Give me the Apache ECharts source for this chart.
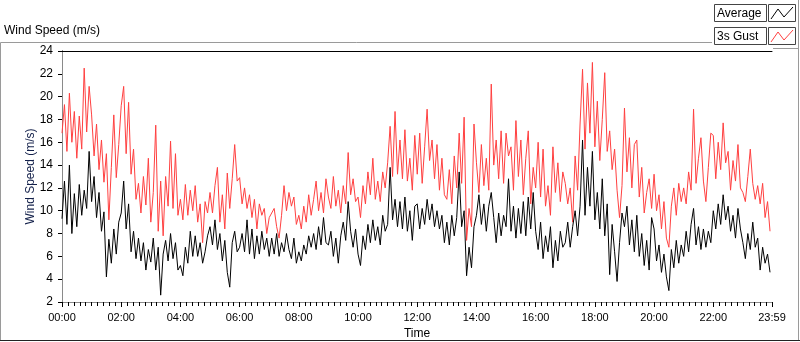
<!DOCTYPE html>
<html>
<head>
<meta charset="utf-8">
<script src="https://cdn.jsdelivr.net/npm/echarts@6/dist/echarts.min.js"></script>
<style>
  html, body { margin: 0; padding: 0; background: #fff; }
  #chart { width: 800px; height: 342px; }
</style>
</head>
<body>
<div id="chart"></div>
<script>
// samples every 5 minutes, 00:00 .. 23:55 (one row per hour)
const STEP_MIN = 5;

const gust = [
  16.8, 19.3, 15.2, 20.3, 16.0, 18.7, 14.6, 18.3, 15.4, 22.5, 16.9, 20.9,
  18.4, 14.8, 17.6, 13.6, 16.2, 12.5, 15.0, 9.2, 13.8, 18.4, 12.9, 15.8,
  19.2, 20.9, 15.0, 19.5, 13.2, 15.4, 11.0, 12.4, 9.8, 13.0, 10.5, 14.6,
  9.0, 11.6, 17.5, 8.2, 12.6, 7.8, 13.0, 10.4, 16.1, 10.2, 15.0, 9.6,
  11.0, 9.2, 12.3, 9.6, 11.8, 10.0, 12.2, 9.0, 10.6, 7.2, 10.8, 9.8,
  11.6, 9.8, 12.2, 13.8, 9.0, 11.4, 8.4, 13.3, 10.2, 12.8, 15.8, 12.6,
  12.9, 10.6, 12.0, 10.2, 11.4, 9.4, 11.0, 8.4, 10.6, 9.6, 10.2, 8.0,
  9.4, 9.8, 10.2, 8.6, 7.6, 9.6, 12.2, 10.0, 11.6, 10.4, 11.2, 8.8,
  9.6, 8.4, 10.4, 9.0, 11.4, 9.6, 11.0, 12.6, 10.0, 11.6, 9.8, 12.8,
  11.2, 10.2, 13.0, 10.4, 11.8, 9.8, 12.2, 10.6, 15.1, 11.4, 12.8, 10.8,
  11.2, 9.4, 12.2, 10.6, 13.4, 11.4, 14.6, 11.0, 12.6, 10.8, 13.4, 12.0,
  14.2, 17.4, 13.0, 18.7, 13.2, 16.2, 12.8, 17.1, 12.6, 14.6, 11.8, 16.6,
  13.2, 16.8, 12.4, 15.6, 18.9, 14.4, 16.2, 12.8, 15.8, 11.8, 14.6, 11.4,
  11.0, 13.6, 10.6, 14.8, 12.0, 16.8, 12.4, 18.2, 7.4, 10.2, 8.6, 17.6,
  14.2, 11.6, 15.8, 12.2, 14.6, 11.8, 21.1, 14.0, 16.2, 12.8, 17.0, 12.4,
  16.8, 14.8, 15.6, 11.8, 17.9, 13.0, 16.2, 11.4, 14.6, 17.0, 10.6, 13.8,
  12.0, 16.0, 11.2, 15.4, 10.4, 12.2, 9.6, 15.6, 11.6, 14.2, 10.8, 13.4,
  12.4, 10.6, 12.0, 9.0, 14.8, 11.8, 17.6, 22.4, 15.4, 21.2, 16.8, 23.0,
  15.6, 19.6, 14.4, 18.0, 22.1, 15.2, 17.0, 13.6, 15.4, 11.8, 9.4, 12.2,
  19.0, 13.4, 16.4, 12.0, 15.8, 16.2, 11.2, 13.8, 9.8, 11.6, 12.8, 10.2,
  13.2, 10.0, 11.4, 8.4, 10.8, 7.6, 6.8, 10.4, 12.0, 9.6, 12.4, 10.8,
  12.0, 10.6, 13.4, 11.8, 18.9, 12.4, 14.6, 16.4, 12.6, 10.8, 13.8, 16.8,
  16.6, 12.8, 16.0, 13.6, 17.7, 14.2, 15.2, 11.8, 14.4, 12.6, 15.8, 12.0,
  11.6, 10.8, 13.0, 15.4, 12.4, 11.0, 12.2, 10.6, 12.4, 9.4, 10.8, 8.2
];

const average = [
  9.3, 12.6, 8.8, 14.0, 8.0, 11.5, 8.6, 12.3, 9.6, 11.8, 10.2, 15.2,
  10.8, 13.0, 9.4, 11.6, 8.2, 9.9, 4.2, 7.5, 5.4, 8.4, 6.2, 9.0,
  9.8, 12.6, 8.4, 10.6, 6.4, 8.2, 5.8, 7.6, 5.6, 7.2, 4.8, 6.6,
  5.5, 7.6, 4.8, 6.8, 2.6, 6.2, 7.4, 5.6, 8.0, 5.8, 7.2, 4.8,
  5.2, 4.3, 6.8, 5.4, 8.2, 6.0, 7.8, 6.0, 7.2, 5.4, 6.4, 7.8,
  8.6, 7.0, 9.2, 6.6, 8.0, 5.6, 7.4, 4.6, 3.3, 7.2, 8.2, 6.4,
  6.8, 8.0, 6.4, 9.2, 6.2, 8.4, 5.8, 7.8, 6.2, 8.2, 6.6, 7.6,
  6.0, 7.6, 6.2, 8.0, 6.0, 7.2, 6.4, 8.0, 6.6, 5.8, 7.6, 5.4,
  6.4, 5.6, 7.0, 6.2, 7.8, 6.8, 8.0, 6.6, 8.6, 7.0, 9.4, 7.2,
  7.0, 8.2, 6.0, 7.6, 5.4, 7.8, 9.0, 7.4, 10.8, 8.2, 6.8, 8.4,
  6.2, 5.2, 7.8, 6.6, 8.8, 7.2, 9.2, 7.4, 8.6, 7.0, 9.6, 8.2,
  8.8, 13.8, 9.2, 11.0, 8.6, 10.8, 8.4, 11.2, 8.2, 10.0, 7.4, 10.4,
  10.6, 8.4, 10.2, 8.8, 11.0, 9.2, 10.6, 8.6, 10.0, 8.4, 9.6, 7.2,
  9.0, 7.0, 9.6, 7.8, 9.4, 13.4, 8.6, 10.0, 4.3, 6.8, 5.0, 8.6,
  9.6, 11.4, 8.8, 10.6, 8.2, 10.4, 11.6, 9.4, 7.2, 9.8, 7.8, 9.6,
  8.6, 12.8, 8.2, 10.4, 7.6, 10.2, 8.0, 10.8, 7.8, 11.2, 8.4, 11.6,
  8.2, 6.6, 9.0, 5.8, 7.8, 6.4, 8.6, 5.0, 7.4, 5.6, 8.2, 6.8,
  7.2, 9.0, 6.8, 8.6, 10.0, 7.8, 10.4, 16.2, 9.6, 13.8, 10.4, 15.2,
  9.2, 11.6, 8.4, 12.8, 7.8, 10.6, 4.4, 8.8, 6.4, 3.8, 7.2, 9.8,
  8.6, 10.4, 7.0, 9.2, 6.4, 9.6, 6.0, 8.0, 5.2, 7.4, 4.8, 9.4,
  8.4, 5.6, 7.0, 4.6, 6.2, 4.2, 3.0, 6.6, 5.0, 7.4, 5.4, 7.0,
  6.0, 8.2, 6.4, 8.8, 10.2, 7.0, 8.6, 6.6, 8.4, 6.8, 8.2, 7.2,
  10.0, 8.4, 10.6, 8.8, 11.4, 9.2, 10.4, 8.2, 9.6, 7.6, 10.2, 8.4,
  7.2, 5.8, 8.0, 6.6, 9.0, 6.8, 7.6, 4.8, 6.8, 5.4, 6.2, 4.6
];

const Y_TICKS = { min: 2, max: 24, step: 2 };
const X_TICKS = { min: 0, max: 1439, step: 120 }; // minutes of the day

const chart = echarts.init(document.getElementById('chart'), null, { renderer: 'canvas' });

const toPairs = arr => arr.map((v, i) => [i * STEP_MIN, v]);
const hhmm = m => String(Math.floor(m / 60)).padStart(2, '0') + ':' + String(m % 60).padStart(2, '0');

const FONT = 'Liberation Sans, Arial, sans-serif';
const txt = { fontFamily: FONT, color: '#000' };

const legendRow = (y, label, color) => [
  { type: 'rect', shape: { x: 714.5, y: y + 0.5, width: 52, height: 17 }, style: { fill: '#fff', stroke: '#444', lineWidth: 1 } },
  { type: 'text', x: 717, y: y + 9.5, style: { text: label, fontFamily: FONT, fontSize: 12, fill: '#000', verticalAlign: 'middle' } },
  { type: 'rect', shape: { x: 768.5, y: y + 0.5, width: 27, height: 17 }, style: { fill: '#fff', stroke: '#444', lineWidth: 1 } },
  { type: 'polyline', shape: { points: [[771, y + 15], [778, y + 5], [784, y + 13], [793, y + 3]] }, style: { stroke: color, lineWidth: 1, fill: null } }
];

const option = {
  animation: false,
  backgroundColor: '#fff',
  grid: { left: 62, top: 51, width: 710, height: 251, show: false, outerBoundsMode: 'none' },
  xAxis: [{
    type: 'value',
    min: X_TICKS.min,
    max: X_TICKS.max,
    interval: X_TICKS.step,
    name: 'Time',
    nameLocation: 'middle',
    nameGap: 26,
    nameMoveOverlap: false,
    nameTextStyle: { ...txt, fontSize: 12 },
    axisLine: { show: true, lineStyle: { color: '#8a8a8a', width: 1 } },
    axisTick: { show: true, inside: false, length: 5, lineStyle: { color: '#000' } },
    minorTick: { show: true, splitNumber: 10, length: 4, lineStyle: { color: '#000', width: 1 } },
    axisLabel: { ...txt, fontSize: 11, margin: 10, formatter: v => hhmm(v), showMaxLabel: true, showMinLabel: true },
    splitLine: { show: false }
  }, {
    type: 'value',
    position: 'top',
    min: X_TICKS.min,
    max: X_TICKS.max,
    axisLine: { show: true, lineStyle: { color: '#000', width: 1 } },
    axisTick: { show: false },
    axisLabel: { show: false },
    splitLine: { show: false }
  }],
  yAxis: [{
    type: 'value',
    min: Y_TICKS.min,
    max: Y_TICKS.max,
    interval: Y_TICKS.step,
    name: 'Wind Speed (m/s)',
    nameLocation: 'middle',
    nameGap: 25,
    nameMoveOverlap: false,
    nameTextStyle: { fontFamily: FONT, fontSize: 12, color: '#13204a' },
    axisLine: { show: true, lineStyle: { color: '#000', width: 1 } },
    axisTick: { show: true, length: 4, lineStyle: { color: '#000' } },
    axisLabel: { ...txt, fontSize: 12, margin: 9 },
    splitLine: { show: false }
  }, {
    type: 'value',
    position: 'right',
    min: Y_TICKS.min,
    max: Y_TICKS.max,
    axisLine: { show: true, lineStyle: { color: '#8a8a8a', width: 1 } },
    axisTick: { show: false },
    axisLabel: { show: false },
    splitLine: { show: false }
  }],
  series: [{
    name: '3s Gust',
    type: 'line',
    data: toPairs(gust),
    showSymbol: false,
    lineStyle: { color: '#ff4040', width: 1 },
    itemStyle: { color: '#ff4040' },
    z: 2
  }, {
    name: 'Average',
    type: 'line',
    data: toPairs(average),
    showSymbol: false,
    lineStyle: { color: '#000', width: 1 },
    itemStyle: { color: '#000' },
    z: 3
  }],
  graphic: [
    { type: 'text', x: 4, y: 25, style: { text: 'Wind Speed (m/s)', fontFamily: FONT, fontSize: 12, fill: '#000' } },
    // outer frame
    { type: 'polyline', shape: { points: [[0.5, 341], [0.5, 42.5], [712, 42.5]] }, style: { stroke: '#9a9a9a', lineWidth: 1, fill: null } },
    { type: 'polyline', shape: { points: [[773, 48.5], [798.5, 48.5]] }, style: { stroke: '#9a9a9a', lineWidth: 1, fill: null } },
    { type: 'polyline', shape: { points: [[798.5, 0], [798.5, 341]] }, style: { stroke: '#9a9a9a', lineWidth: 1, fill: null } },
    { type: 'polyline', shape: { points: [[0, 340.5], [800, 340.5]] }, style: { stroke: '#222', lineWidth: 1, fill: null } },
    ...legendRow(4, 'Average', '#000'),
    ...legendRow(27, '3s Gust', '#ff4040')
  ]
};

chart.setOption(option);
</script>
</body>
</html>
